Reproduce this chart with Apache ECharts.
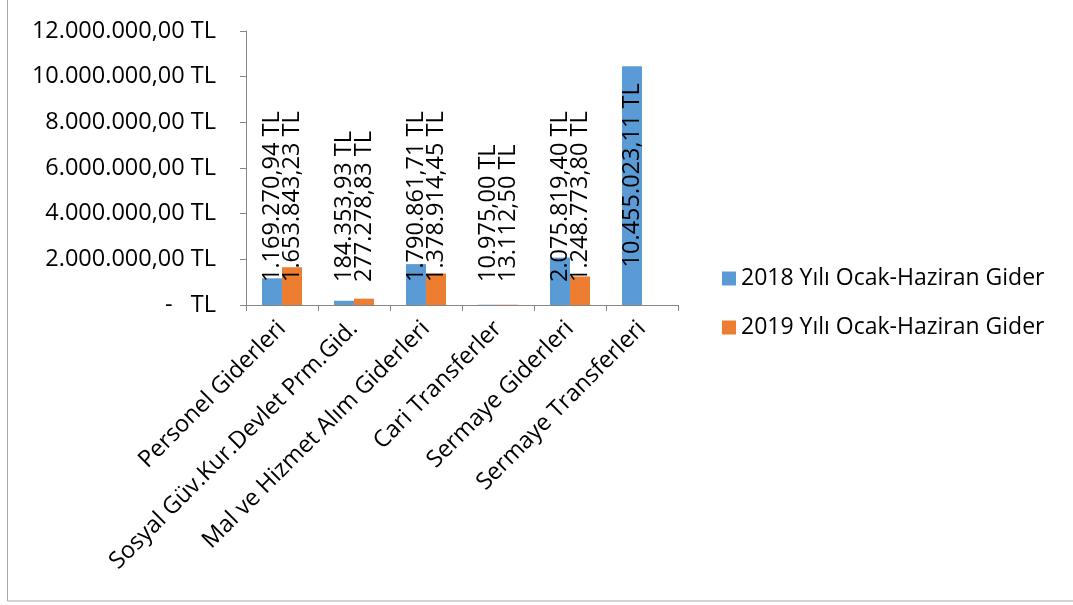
<!DOCTYPE html>
<html>
<head>
<meta charset="utf-8">
<script src="https://cdn.jsdelivr.net/npm/echarts@6/dist/echarts.min.js"></script>
<style>
html,body{margin:0;padding:0;background:#fff;}
#c{width:1073px;height:605px;}
</style>
</head>
<body>
<div id="c"></div>
<script>
const categories = ['Personel Giderleri','Sosyal Güv.Kur.Devlet Prm.Gid.','Mal ve Hizmet Alım Giderleri','Cari Transferler','Sermaye Giderleri','Sermaye Transferleri'];
const seriesNames = ['2018 Yılı Ocak-Haziran Gider','2019 Yılı Ocak-Haziran Gider'];
const values2018 = [1169270.94, 184353.93, 1790861.71, 10975.00, 2075819.40, 10455023.11];
const values2019 = [1653843.23, 277278.83, 1378914.45, 13112.50, 1248773.80, null];
const yTicks = [0, 2000000, 4000000, 6000000, 8000000, 10000000, 12000000];

function trFmt(v){
  const neg = v < 0; v = Math.abs(v);
  const s = v.toFixed(2);
  const parts = s.split('.');
  const intPart = parts[0].replace(/\B(?=(\d{3})+(?!\d))/g, '.');
  return (neg?'-':'') + intPart + ',' + parts[1] + ' TL';
}

const FONT = 'Open Sans';
const FS = 23.5;
const labelBase = {
  show: true, rotate: 90, position: 'insideBottom', distance: 23,
  align: 'left', verticalAlign: 'middle',
  fontFamily: FONT, fontSize: FS, color: '#000',
  formatter: p => trFmt(p.value)
};
function buildData(arr){
  return arr.map(v => {
    if (v == null) return {value: null, label: {show:false}};
    if (v > 8000000) return {value: v, label: {position: 'insideTop', distance: 17, align: 'right'}};
    return {value: v};
  });
}

const chart = echarts.init(document.getElementById('c'), null, {renderer:'canvas'});
chart.setOption({
  animation: false,
  backgroundColor: '#fff',
  textStyle: {fontFamily: FONT},
  graphic: [{
    type: 'rect', shape: {x: 7.5, y: -5, width: 1100, height: 606},
    style: {fill: 'none', stroke: '#a6a6a6', lineWidth: 1}, silent: true
  }],
  grid: {left: 246, right: 395, top: 31, bottom: 300, containLabel: false},
  legend: {
    orient: 'vertical', left: 717, top: 262,
    icon: 'rect', itemWidth: 14, itemHeight: 14, itemGap: 26,
    textStyle: {fontFamily: FONT, fontSize: 23, color: '#000'},
    data: seriesNames
  },
  xAxis: {
    type: 'category', data: categories,
    axisLine: {lineStyle: {color: '#868686', width: 1}},
    axisTick: {show: true, length: 6, alignWithLabel: false, lineStyle: {color: '#868686'}},
    axisLabel: {rotate: 45, interval: 0, margin: 20, fontFamily: FONT, fontSize: FS, color: '#000'}
  },
  yAxis: {
    type: 'value', min: 0, max: 12000000, interval: 2000000,
    axisLine: {show: true, lineStyle: {color: '#868686', width: 1}},
    axisTick: {show: true, length: 6, lineStyle: {color: '#868686'}},
    splitLine: {show: false},
    axisLabel: {
      fontFamily: FONT, fontSize: FS, color: '#000', margin: 30,
      formatter: v => v === 0 ? '-   TL' : trFmt(v)
    }
  },
  series: [
    {name: seriesNames[0], type: 'bar', data: buildData(values2018), barWidth: 20, barGap: '0%',
     itemStyle: {color: '#5B9BD5'}, label: labelBase},
    {name: seriesNames[1], type: 'bar', data: buildData(values2019), barWidth: 20, barGap: '0%',
     itemStyle: {color: '#ED7D31'}, label: labelBase}
  ]
});
</script>
</body>
</html>
